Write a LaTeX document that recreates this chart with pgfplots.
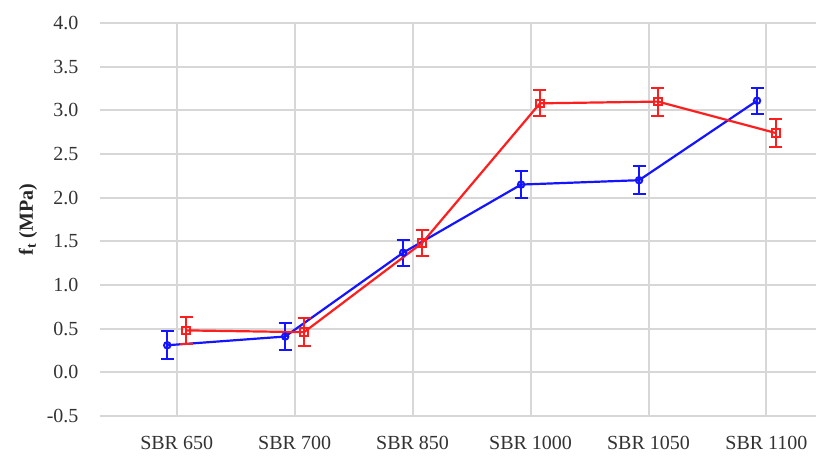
\documentclass[border=0pt]{standalone}
\usepackage{pgfplots}
\pgfplotsset{compat=1.18}
\usepackage{fontspec}
\setmainfont{Liberation Serif}
\usetikzlibrary{calc}
\definecolor{gridc}{RGB}{215,215,215}
\definecolor{myblue}{RGB}{20,20,255}
\definecolor{myred}{RGB}{255,30,30}
\begin{document}
\begin{tikzpicture}
\begin{axis}[
  scale only axis, width=716pt, height=393pt,
  xmin=-0.65, xmax=5.42, ymin=-0.5, ymax=4.0,
  ytick={-0.5,0,0.5,1,1.5,2,2.5,3,3.5,4},
  yticklabel style={/pgf/number format/fixed, /pgf/number format/fixed zerofill, /pgf/number format/precision=1},
  /pgf/number format/assume math mode=true,
  xtick={0,1,2,3,4,5},
  xticklabels={SBR 650, SBR 700, SBR 850, SBR 1000, SBR 1050, SBR 1100},
  axis line style={draw=none}, major tick length=0pt,
  grid=major, grid style={color=gridc, line width=2pt},
  tick label style={font=\fontsize{20}{23}\selectfont, color=black!80},
  yticklabel style={xshift=-18pt},
  xticklabel style={yshift=-17pt},
  ylabel={\textbf{f\textsubscript{t} (MPa)}},
  ylabel style={at={(axis description cs:-0.1006,0.5)}, anchor=center, font=\fontsize{20}{23}\selectfont, color=black!85},
  clip=false,
]
\addplot[myblue, line width=2.2pt, mark=o, mark size=3.2pt, mark options={line width=2pt},
  error bars/.cd, y dir=both, y explicit,
  error bar style={line width=2pt, myblue},
  error mark options={rotate=90, mark size=6.5pt, line width=2pt, myblue}]
coordinates {
 (-0.08,0.31) +- (0,0.16)
 (0.92,0.41) +- (0,0.16)
 (1.92,1.37) +- (0,0.15)
 (2.92,2.15) +- (0,0.15)
 (3.92,2.20) +- (0,0.16)
 (4.92,3.11) +- (0,0.15)
};
\addplot[myred, line width=2.2pt, mark=square, mark size=3.8pt, mark options={line width=2pt},
  error bars/.cd, y dir=both, y explicit,
  error bar style={line width=2pt, myred},
  error mark options={rotate=90, mark size=6.5pt, line width=2pt, myred}]
coordinates {
 (0.08,0.48) +- (0,0.15)
 (1.08,0.46) +- (0,0.16)
 (2.08,1.48) +- (0,0.15)
 (3.08,3.08) +- (0,0.15)
 (4.08,3.10) +- (0,0.16)
 (5.08,2.74) +- (0,0.16)
};
\end{axis}
\pgfresetboundingbox
\path ($(current axis.south west)+(-100pt,-43pt)$) rectangle ($(current axis.north east)+(0pt,23pt)$);
\end{tikzpicture}
\end{document}
